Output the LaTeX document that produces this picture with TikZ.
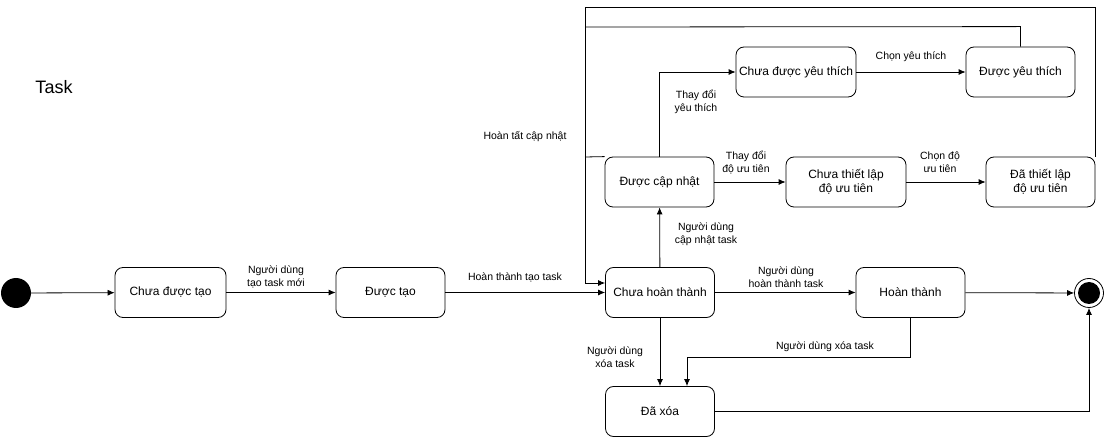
\documentclass[tikz,border=0pt]{standalone}
\usepackage{fontspec}
\setmainfont{Liberation Sans}
\usetikzlibrary{arrows.meta,calc}
\begin{document}
\begin{tikzpicture}[x=1pt,y=-1pt,
  state/.style={draw,rounded corners=8pt,minimum width=109pt,minimum height=50pt,inner sep=0pt,align=center,font=\fontsize{12}{14}\selectfont,line width=0.8pt},
  lbl/.style={align=center,font=\fontsize{10.5}{13}\selectfont,inner sep=0pt},
  tr/.style={draw,line width=0.8pt,-{Latex[length=7pt,width=6pt]}},
  ln/.style={draw,line width=0.8pt}]
\useasboundingbox (0,0) rectangle (1106,438);
\node[font=\fontsize{18}{20}\selectfont] (title) at (54,87) {Task};
% start/end
\node[circle,fill=black,minimum size=30pt,inner sep=0pt] (start) at (16,293) {};
\node[circle,draw,line width=0.8pt,minimum size=29pt,inner sep=0pt] (end) at (1089,293) {};
\node[circle,fill=black,minimum size=22pt,inner sep=0pt] (endin) at (1089,293) {};
% states
\node[state,minimum width=111pt] (cdt) at (170.5,292.5) {Chưa được tạo};
\node[state] (dt) at (390.5,292.5) {Được tạo};
\node[state] (cht) at (660,292.5) {Chưa hoàn thành};
\node[state] (ht) at (910.5,292.5) {Hoàn thành};
\node[state] (dx) at (660,411.5) {Đã xóa};
\node[state] (dcn) at (659.5,182) {Được cập nhật};
\node[state,minimum width=120pt] (ctl) at (846,182) {Chưa thiết lập\\độ ưu tiên};
\node[state] (dtl) at (1040.5,182) {Đã thiết lập\\độ ưu tiên};
\node[state,minimum width=120pt] (cyt) at (796,72) {Chưa được yêu thích};
\node[state] (dyt) at (1020.5,72) {Được yêu thích};
% corner coordinates
\coordinate (cA) at (585,283);
% transitions
\draw[tr] (start) -- (cdt);
\draw[tr] (cdt) -- (dt);
\node[lbl] (l1) at (276,277) {Người dùng\\tạo task mới};
\draw[tr] (dt) -- (cht);
\node[lbl] (l2) at (515,277) {Hoàn thành tạo task};
\draw[tr] (cht) -- (dcn);
\node[lbl] (l3) at (706,234) {Người dùng\\cập nhật task};
\draw[tr] (dcn.north) |- (cyt.west);
\node[lbl] (l4) at (696,101.5) {Thay đổi\\yêu thích};
\draw[tr] (cyt) -- (dyt);
\node[lbl] (l5) at (911,57) {Chọn yêu thích};
\draw[tr] (dcn) -- (ctl);
\node[lbl] (l6) at (746,162.5) {Thay đổi\\độ ưu tiên};
\draw[tr] (ctl) -- (dtl);
\node[lbl] (l7) at (940,162.5) {Chọn độ\\ưu tiên};
\draw[tr] (cht) -- (ht);
\node[lbl] (l8) at (786,277) {Người dùng\\hoàn thành task};
\draw[tr] (ht) -- (end);
\draw[tr] (cht) -- (dx);
\node[lbl] (l9) at (615,357.5) {Người dùng\\xóa task};
\draw[tr] (ht.south) -- ++(0,40) -| ($(dx.north)+(27,0)$);
\node[lbl] (l10) at (825,347) {Người dùng xóa task};
\draw[tr] (dx.east) -| (end.south);
% update-complete loops
\draw[ln] (dtl.north east) -- ++(0,-149) -| (cA);
\draw[tr] (cA) -- (cA -| cht.west);
\draw[ln] (dyt.north) -- ++(0,-20) -- (585,27);
\draw[ln] (dcn.north west) -- (585,157);
\node[lbl] (l11) at (525,137) {Hoàn tất cập nhật};
\end{tikzpicture}
\end{document}
